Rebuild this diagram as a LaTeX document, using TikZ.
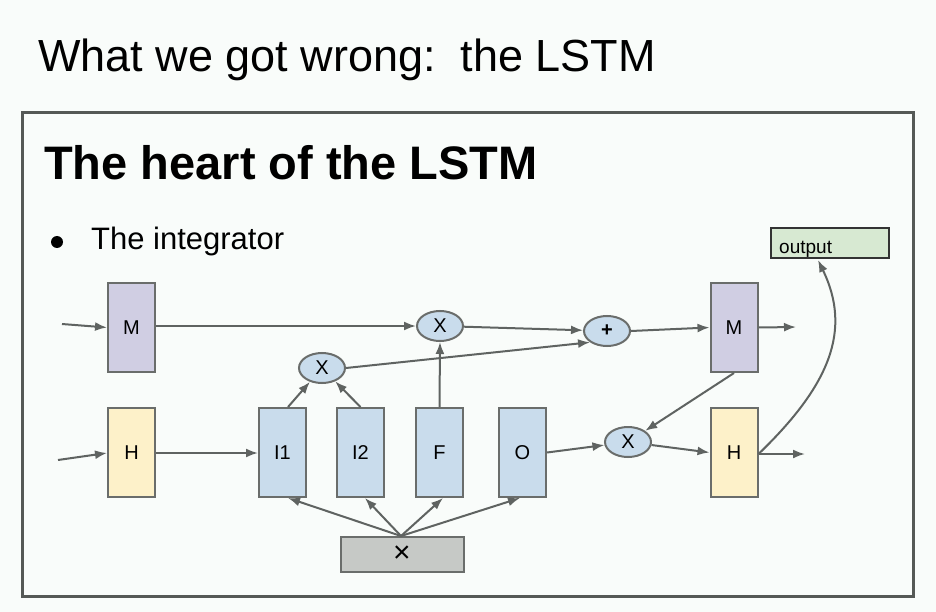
\documentclass[tikz,border=0pt]{standalone}
\usepackage{fontspec}
\setmainfont{Liberation Sans}
\usetikzlibrary{arrows.meta,shapes.geometric}
\definecolor{bgc}{HTML}{F9FCFA}
\definecolor{framec}{HTML}{555956}
\definecolor{linec}{HTML}{5F6361}
\definecolor{boxline}{HTML}{6A6D6B}
\definecolor{mfill}{HTML}{D0CEE3}
\definecolor{hfill}{HTML}{FDF1C9}
\definecolor{gfill}{HTML}{C9DCEC}
\definecolor{ofill}{HTML}{D7E9D2}
\definecolor{xfill}{HTML}{C6C9C6}
\tikzset{
  nodefont/.style={font=\fontsize{20}{24}\selectfont},
  tallbox/.style={draw=boxline, line width=2pt, minimum width=47pt, minimum height=89pt, inner sep=0pt, nodefont},
  mbox/.style={tallbox, fill=mfill},
  hbox/.style={tallbox, fill=hfill},
  gbox/.style={tallbox, fill=gfill},
  opnode/.style={ellipse, draw=boxline, line width=2pt, fill=gfill, minimum width=46pt, minimum height=30pt, inner sep=0pt, nodefont},
  conn/.style={draw=linec, line width=2pt, -{Latex[length=12pt,width=9pt]}},
}
\begin{document}
\begin{tikzpicture}[x=1pt,y=-1pt]
\fill[bgc] (0,0) rectangle (936,612);
\useasboundingbox (0,0) rectangle (936,612);
% titles
\node[anchor=base west, inner sep=0pt, font=\fontsize{45}{50}\selectfont] (title) at (38,72) {What we got wrong:\ \ the LSTM};
\draw[framec, line width=3pt] (22,113) rectangle (913,596);
\node[anchor=base west, inner sep=0pt, font=\fontsize{47}{52}\selectfont\bfseries] (heading) at (44,180) {The heart of the LSTM};
\fill (57,242) circle (6pt);
\node[anchor=base west, inner sep=0pt, font=\fontsize{31}{36}\selectfont] (bullet) at (91,250) {The integrator};

% boxes
\node[mbox] (Ml) at (131.5,327.5) {M};
\node[hbox] (Hl) at (131.5,452.5) {H};
\node[gbox] (I1) at (282.5,452.5) {I1};
\node[gbox] (I2) at (360.5,452.5) {I2};
\node[gbox] (F) at (439.5,452.5) {F};
\node[gbox] (O) at (522.5,452.5) {O};
\node[mbox] (Mr) at (734,327.5) {M};
\node[hbox] (Hr) at (734,452.5) {H};
\node[draw=black!80, line width=2pt, fill=ofill, minimum width=118pt, minimum height=29pt, inner sep=0pt] (out) at (829.5,243) {};
\node[anchor=base west, inner sep=0pt, font=\fontsize{19}{22}\selectfont] (outtxt) at (779,253) {output};
\node[draw=boxline, line width=2pt, fill=xfill, minimum width=123pt, minimum height=35pt, inner sep=0pt, font=\fontsize{30}{32}\selectfont] (xin) at (402,554) {×};

% operators
\node[opnode] (sx) at (322,368) {X};
\node[opnode] (tx) at (440,326) {X};
\node[opnode] (plus) at (607,331) {\textbf{+}};
\node[opnode] (rx) at (628,442) {X};

% free ends
\coordinate (mlin) at (62,324);
\coordinate (hlin) at (58,460);
\coordinate (mrout) at (796,327);
\coordinate (hrout) at (805,454);
\coordinate (xtop) at (401,536);
\coordinate (outpt) at (818,260);

% connectors
\draw[conn] (mlin) -- (Ml.west);
\draw[conn] (hlin) -- (Hl.west |- 0,453);
\draw[conn] (Ml.east |- 0,326) -- (tx.west);
\draw[conn] (Hl.east |- 0,453) -- (I1.west |- 0,453);
\draw[conn] (tx) -- (plus);
\draw[conn] (sx.east) -- (plus.south west);
\draw[conn] ([xshift=5.5pt]I1.north) -- (sx);
\draw[conn] (I2.north) -- (sx);
\draw[conn] (F.north) -- (tx.south);
\draw[conn] (plus.east) -- (Mr.west);
\draw[conn] (Mr.east) -- (mrout);
\draw[conn] (Mr.south) -- (rx);
\draw[conn] (O.east) -- (rx);
\draw[conn] (rx) -- (Hr.west);
\draw[conn] (Hr.east |- 0,454) -- (hrout);
\draw[conn] (Hr.east |- 0,454) .. controls (830,385) and (852,330) .. (outpt);
\draw[conn] (xtop) -- ([xshift=5.5pt]I1.south);
\draw[conn] (xtop) -- ([xshift=4.5pt]I2.south);
\draw[conn] (xtop) -- ([xshift=3.5pt]F.south);
\draw[conn] (xtop) -- ([xshift=-2.5pt]O.south);
\end{tikzpicture}
\end{document}
